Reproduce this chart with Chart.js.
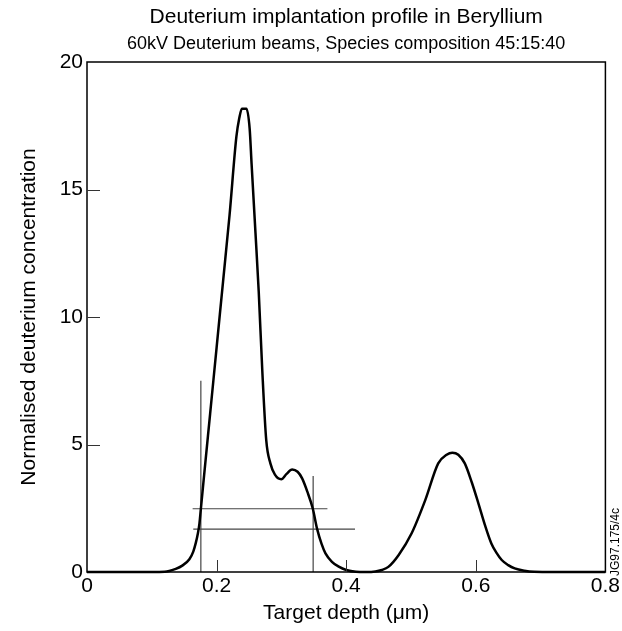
<!DOCTYPE html>
<html>
<head>
<meta charset="utf-8">
<script src="https://cdn.jsdelivr.net/npm/chart.js@4.4.1/dist/chart.umd.min.js"></script>
<style>
  html, body { margin: 0; padding: 0; background: #fff; }
  #wrap { width: 622px; height: 631px; }
</style>
</head>
<body>
<div id="wrap"><canvas id="profile"></canvas></div>
<script>
// Depth profile (um, normalised concentration)
const depth = [0, 0.05, 0.1, 0.12, 0.127, 0.137, 0.147, 0.158, 0.164, 0.168, 0.171, 0.1735, 0.1757, 0.18, 0.19, 0.2, 0.21, 0.22,
    0.2305, 0.235, 0.239, 0.246, 0.251, 0.254, 0.26, 0.265, 0.2705, 0.2766, 0.283, 0.29, 0.2998, 0.308, 0.3166, 0.325,
    0.332, 0.34, 0.3485, 0.355, 0.362, 0.368, 0.378, 0.3885, 0.4, 0.415, 0.43, 0.445, 0.455, 0.465, 0.481, 0.501,
    0.522, 0.542, 0.555, 0.5638, 0.573, 0.583, 0.594, 0.604, 0.614, 0.624, 0.632, 0.64, 0.65, 0.66, 0.675, 0.69, 0.72, 0.8];
const conc = [0, 0, 0, 0.01, 0.04, 0.12, 0.25, 0.5, 0.8, 1.15, 1.5, 1.9, 2.48, 3.6, 6.2, 8.8, 11.4, 14.0,
    17.06, 17.8, 18.17, 18.17, 17.39, 16.0, 13.3, 11.0, 7.9, 5.17, 4.26, 3.82, 3.64, 3.85, 4.02, 3.93,
    3.67, 3.15, 2.48, 1.7, 1.1, 0.73, 0.4, 0.21, 0.08, 0.01, 0, 0.02, 0.08, 0.2, 0.67, 1.52,
    2.82, 4.26, 4.6, 4.68, 4.6, 4.26, 3.5, 2.69, 1.85, 1.12, 0.75, 0.47, 0.27, 0.14, 0.05, 0.01, 0, 0];

// construction lines (width markers)
const markerX = [0.1757, 0.349];
const markerTop = [7.5, 3.76];
const levelY = [2.48, 1.68];
const levelFrom = [0.163, 0.164];
const levelTo = [0.371, 0.4136];

const xTicks = [0.2, 0.4, 0.6];
const yTicks = [5, 10, 15];

const titleText = "Deuterium implantation profile in Beryllium";
const subtitleText = "60kV Deuterium beams, Species composition 45:15:40";
const refText = "JG97.175/4c";

const FONT = "'Liberation Sans', Arial, Helvetica, sans-serif";
Chart.defaults.font.family = FONT;
Chart.defaults.color = "#000";

const profilePoints = depth.map((d, i) => ({ x: d, y: conc[i] }));

const markerSets = [];
markerX.forEach((x, i) => {
    markerSets.push({
        data: [{ x: x, y: 0 }, { x: x, y: markerTop[i] }],
        borderColor: "#444", borderWidth: 1.2, pointRadius: 0, tension: 0, clip: false
    });
});
levelY.forEach((y, i) => {
    markerSets.push({
        data: [{ x: levelFrom[i], y: y }, { x: levelTo[i], y: y }],
        borderColor: "#444", borderWidth: 1.2, pointRadius: 0, tension: 0, clip: false
    });
});

// frame, inward ticks, titles and the reference tag
const decorations = {
    id: "decorations",
    afterDatasetsDraw(chart) {
        const { ctx, chartArea: a, scales } = chart;
        ctx.save();
        ctx.strokeStyle = "#000";
        ctx.lineWidth = 1.5;
        ctx.strokeRect(a.left, a.top, a.right - a.left, a.bottom - a.top);

        ctx.lineWidth = 1;
        ctx.strokeStyle = "#333";
        ctx.beginPath();
        yTicks.forEach(v => {
            const y = Math.round(scales.y.getPixelForValue(v)) + 0.5;
            ctx.moveTo(a.left, y);
            ctx.lineTo(a.left + 13, y);
        });
        xTicks.forEach(v => {
            const x = Math.round(scales.x.getPixelForValue(v)) + 0.5;
            ctx.moveTo(x, a.bottom);
            ctx.lineTo(x, a.bottom - 12);
        });
        ctx.stroke();

        const cx = (a.left + a.right) / 2;
        ctx.fillStyle = "#000";
        ctx.textAlign = "center";
        ctx.textBaseline = "middle";
        ctx.font = "21px " + FONT;
        ctx.fillText(titleText, cx, 17);
        ctx.font = "18px " + FONT;
        ctx.fillText(subtitleText, cx, 44);

        ctx.translate(615.5, 542);
        ctx.rotate(-Math.PI / 2);
        ctx.font = "12px " + FONT;
        ctx.fillText(refText, 0, 0);
        ctx.restore();
    }
};

new Chart(document.getElementById("profile"), {
    type: "line",
    data: {
        datasets: [{
            data: profilePoints,
            borderColor: "#000",
            borderWidth: 2.5,
            pointRadius: 0,
            cubicInterpolationMode: "monotone",
            clip: false
        }].concat(markerSets)
    },
    options: {
        responsive: true,
        maintainAspectRatio: false,
        animation: false,
        layout: { padding: { top: 62, right: 14, left: 0, bottom: 0 } },
        plugins: { legend: { display: false }, tooltip: { enabled: false } },
        scales: {
            x: {
                type: "linear",
                min: 0, max: 0.8,
                grid: { display: false, drawTicks: false },
                border: { display: false },
                ticks: { stepSize: 0.2, padding: 2, font: { size: 21 }, maxRotation: 0 },
                title: { display: true, text: "Target depth (μm)", font: { size: 21 }, padding: { top: 0, bottom: 5 } },
                afterFit: scale => { scale.height = 59; }
            },
            y: {
                min: 0, max: 20,
                grid: { display: false, drawTicks: false },
                border: { display: false },
                ticks: { stepSize: 5, padding: 4, font: { size: 21 } },
                title: { display: true, text: "Normalised deuterium concentration", font: { size: 21 }, padding: { top: 17, bottom: 0 } },
                afterFit: scale => { scale.width = 87; }
            }
        }
    },
    plugins: [decorations]
});
</script>
</body>
</html>
